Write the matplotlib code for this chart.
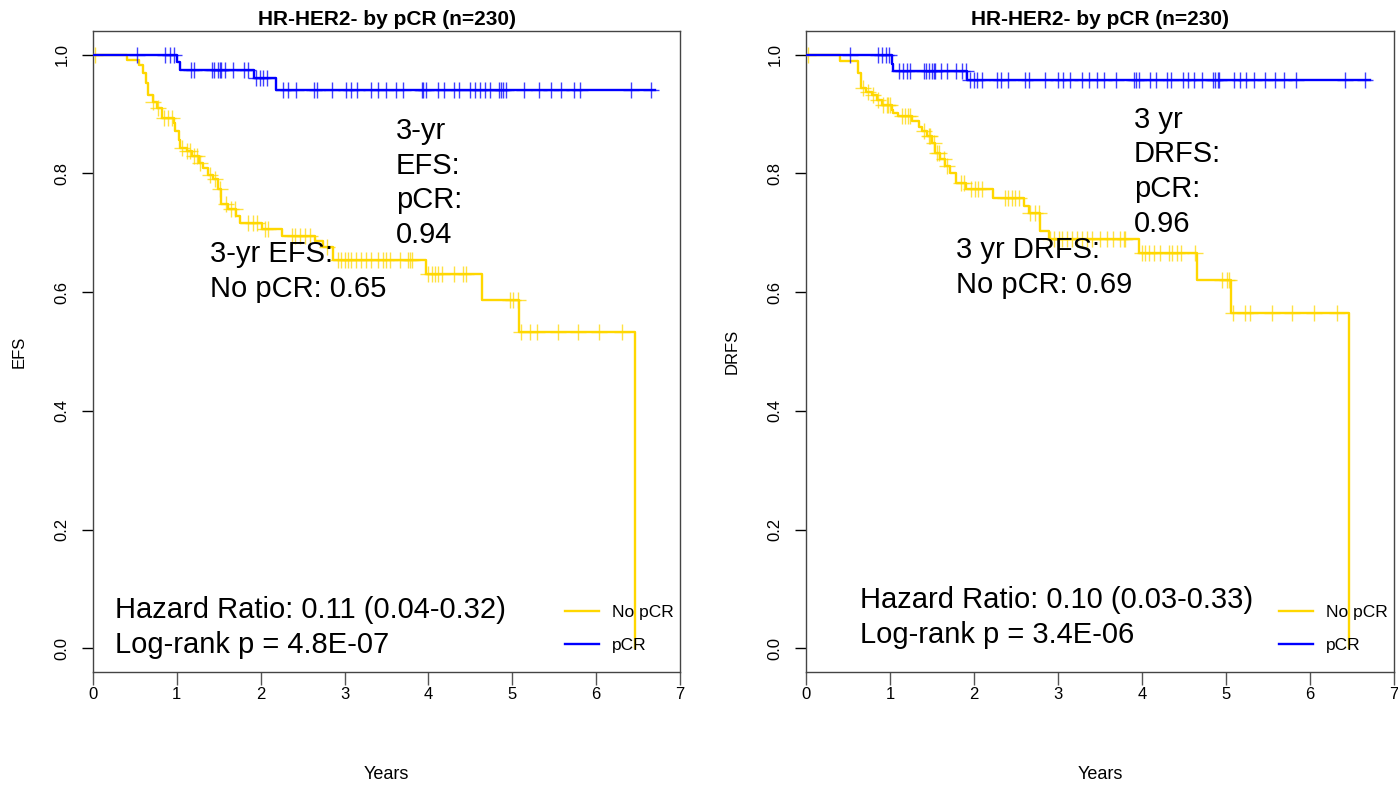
import numpy as np
import matplotlib
matplotlib.use("Agg")
import matplotlib.pyplot as plt
from matplotlib.lines import Line2D

# Kaplan-Meier curves (years, survival)
efs_pcr_t = [0, 1.00, 1.04, 1.92, 2.18, 6.70]
efs_pcr_s = [1.0, 0.988, 0.975, 0.960, 0.941, 0.941]
efs_pcr_cens = [0.52, 0.86, 0.92, 0.97, 1.17, 1.21, 1.42, 1.44, 1.49, 1.51, 1.53, 1.58, 1.67, 1.80,
                1.85, 1.94, 1.99, 2.03, 2.08, 2.26, 2.33, 2.42, 2.63, 2.67, 2.85, 3.02, 3.08, 3.15,
                3.32, 3.40, 3.49, 3.61, 3.70, 3.92, 3.94, 3.97, 4.11, 4.18, 4.31, 4.36, 4.50, 4.56,
                4.61, 4.67, 4.74, 4.84, 4.86, 4.89, 4.92, 5.14, 5.32, 5.46, 5.58, 5.73, 5.81, 6.41, 6.66]

efs_no_t = [0, 0.40, 0.55, 0.60, 0.63, 0.66, 0.72, 0.76, 0.82, 0.96, 0.98, 1.02, 1.04, 1.12, 1.18,
            1.26, 1.31, 1.37, 1.43, 1.49, 1.53, 1.61, 1.71, 1.75, 2.01, 2.25, 2.65, 2.74, 2.86,
            3.97, 4.64, 5.08, 6.46]
efs_no_s = [1.0, 0.991, 0.983, 0.969, 0.952, 0.932, 0.921, 0.910, 0.893, 0.885, 0.871, 0.857, 0.843,
            0.838, 0.829, 0.818, 0.809, 0.798, 0.790, 0.773, 0.748, 0.740, 0.729, 0.717, 0.706,
            0.695, 0.687, 0.676, 0.655, 0.630, 0.587, 0.533, 0.0]
efs_no_cens = [0.02, 0.72, 0.78, 0.85, 0.90, 0.94, 1.06, 1.12, 1.16, 1.20, 1.24, 1.28, 1.39, 1.45,
               1.51, 1.59, 1.65, 1.69, 1.85, 1.91, 1.95, 2.05, 2.09, 2.37, 2.41, 2.47, 2.53, 2.59,
               2.79, 2.92, 2.96, 3.00, 3.04, 3.08, 3.14, 3.20, 3.26, 3.32, 3.40, 3.46, 3.50, 3.54,
               3.66, 3.76, 3.78, 3.80, 4.00, 4.04, 4.08, 4.12, 4.16, 4.31, 4.41, 4.45, 4.97, 5.01,
               5.07, 5.10, 5.21, 5.29, 5.55, 5.78, 6.04, 6.31]

drfs_pcr_t = [0, 1.02, 1.04, 1.92, 6.72]
drfs_pcr_s = [1.0, 0.985, 0.973, 0.957, 0.957]
drfs_pcr_cens = [0.52, 0.86, 0.90, 0.95, 0.99, 1.11, 1.15, 1.20, 1.24, 1.40, 1.43, 1.47, 1.50, 1.52,
                 1.54, 1.61, 1.68, 1.79, 1.86, 1.90, 1.95, 2.00, 2.04, 2.09, 2.27, 2.32, 2.41, 2.61,
                 2.66, 2.84, 3.00, 3.06, 3.14, 3.28, 3.37, 3.46, 3.55, 3.69, 3.91, 3.93, 3.96, 4.10,
                 4.17, 4.30, 4.35, 4.49, 4.55, 4.62, 4.71, 4.84, 4.87, 4.90, 4.92, 5.10, 5.17, 5.24,
                 5.33, 5.46, 5.58, 5.69, 5.83, 6.42, 6.65]

drfs_no_t = [0, 0.40, 0.62, 0.66, 0.72, 0.78, 0.84, 0.90, 1.02, 1.04, 1.10, 1.26, 1.34, 1.38, 1.44,
             1.50, 1.54, 1.60, 1.66, 1.72, 1.78, 1.90, 2.23, 2.59, 2.65, 2.79, 2.89, 3.96, 4.65,
             5.06, 6.46]
drfs_no_s = [1.0, 0.99, 0.97, 0.944, 0.938, 0.932, 0.924, 0.916, 0.907, 0.902, 0.896, 0.888, 0.879,
             0.871, 0.863, 0.851, 0.835, 0.824, 0.812, 0.801, 0.784, 0.773, 0.759, 0.745, 0.734,
             0.703, 0.690, 0.666, 0.620, 0.565, 0.0]
drfs_no_cens = [0.02, 0.68, 0.74, 0.80, 0.86, 0.92, 0.96, 0.98, 1.00, 1.14, 1.18, 1.22, 1.24, 1.40,
                1.46, 1.48, 1.52, 1.56, 1.58, 1.64, 1.68, 1.84, 1.88, 1.97, 2.01, 2.05, 2.09, 2.37,
                2.41, 2.45, 2.49, 2.53, 2.67, 2.73, 2.77, 2.91, 2.95, 3.01, 3.05, 3.11, 3.17, 3.23,
                3.28, 3.34, 3.40, 3.50, 3.58, 3.66, 3.74, 3.78, 3.80, 4.00, 4.04, 4.08, 4.14, 4.22,
                4.32, 4.36, 4.42, 4.46, 4.63, 4.95, 5.01, 5.04, 5.08, 5.23, 5.29, 5.55, 5.79, 6.05,
                6.32]

xticks = [0, 1, 2, 3, 4, 5, 6, 7]
yticks = [0.0, 0.2, 0.4, 0.6, 0.8, 1.0]
yticklabels = ["0.0", "0.2", "0.4", "0.6", "0.8", "1.0"]

GOLD = "#FFD700"
BLUE = "#0000FF"
NARROW = ["Liberation Sans Narrow", "Liberation Sans", "DejaVu Sans"]
ARIAL = ["Liberation Sans", "DejaVu Sans"]


def km(ax, t, s, cens, color):
    t = np.array(t)
    s = np.array(s)
    ax.step(t, s, where="post", color=color, lw=1.7, zorder=3)
    c = np.array(cens)
    cy = s[np.searchsorted(t, c, side="right") - 1]
    ax.plot(c, cy, ls="none", marker="+", ms=12, mew=1.0, color=color, alpha=0.75, zorder=3)


def panel(ax, ylabel, curves, top_txt, mid_txt, hr_txt):
    for t, s, c, col in curves:
        km(ax, t, s, c, col)
    ax.set_xlim(0, 7)
    ax.set_ylim(-0.04, 1.04)
    ax.set_xticks(xticks)
    ax.set_xticklabels([str(v) for v in xticks], fontsize=12, family=NARROW)
    ax.set_yticks(yticks)
    ax.set_yticklabels(yticklabels, fontsize=12, family=NARROW, rotation=90, va="center")
    ax.tick_params(axis="x", direction="out", length=9, width=1, pad=2, color="#555555")
    ax.tick_params(axis="y", direction="out", length=8, width=1, pad=9)
    for sp in ax.spines.values():
        sp.set_linewidth(1.0)
        sp.set_color("#444444")
    ax.set_xlabel("Years", fontsize=13, family=NARROW, labelpad=46)
    ax.set_ylabel(ylabel, fontsize=12, family=NARROW, labelpad=20)
    ax.set_title("HR-HER2- by pCR (n=230)", fontsize=15, fontweight="bold", family=NARROW, pad=4)

    for (x, y, txt) in (top_txt, mid_txt, hr_txt):
        ax.text(x, y, txt, fontsize=21, family=ARIAL, va="center", ha="left", linespacing=1.3, zorder=4)

    handles = [Line2D([], [], color=GOLD, lw=1.7), Line2D([], [], color=BLUE, lw=1.7)]
    ax.legend(handles, ["No pCR", "pCR"], loc="upper left", bbox_to_anchor=(0.79, 0.118),
              frameon=False, borderpad=0, handlelength=1.95, handletextpad=0.75,
              labelspacing=1.0, prop={"family": NARROW, "size": 12.5})


fig = plt.figure(figsize=(13.98, 7.86), dpi=100)
ax1 = fig.add_axes([93 / 1398, 1 - 672 / 786, 587 / 1398, 641 / 786])
ax2 = fig.add_axes([806 / 1398, 1 - 672 / 786, 588 / 1398, 641 / 786])

panel(ax1, "EFS",
      [(efs_no_t, efs_no_s, efs_no_cens, GOLD), (efs_pcr_t, efs_pcr_s, efs_pcr_cens, BLUE)],
      (3.61, 0.784, "3-yr\nEFS:\npCR:\n0.94"),
      (1.39, 0.635, "3-yr EFS:\nNo pCR: 0.65"),
      (0.26, 0.035, "Hazard Ratio: 0.11 (0.04-0.32)\nLog-rank p = 4.8E-07"))

panel(ax2, "DRFS",
      [(drfs_no_t, drfs_no_s, drfs_no_cens, GOLD), (drfs_pcr_t, drfs_pcr_s, drfs_pcr_cens, BLUE)],
      (3.90, 0.803, "3 yr\nDRFS:\npCR:\n0.96"),
      (1.78, 0.642, "3 yr DRFS:\nNo pCR: 0.69"),
      (0.64, 0.052, "Hazard Ratio: 0.10 (0.03-0.33)\nLog-rank p = 3.4E-06"))

fig.savefig("out.png", dpi=100)
